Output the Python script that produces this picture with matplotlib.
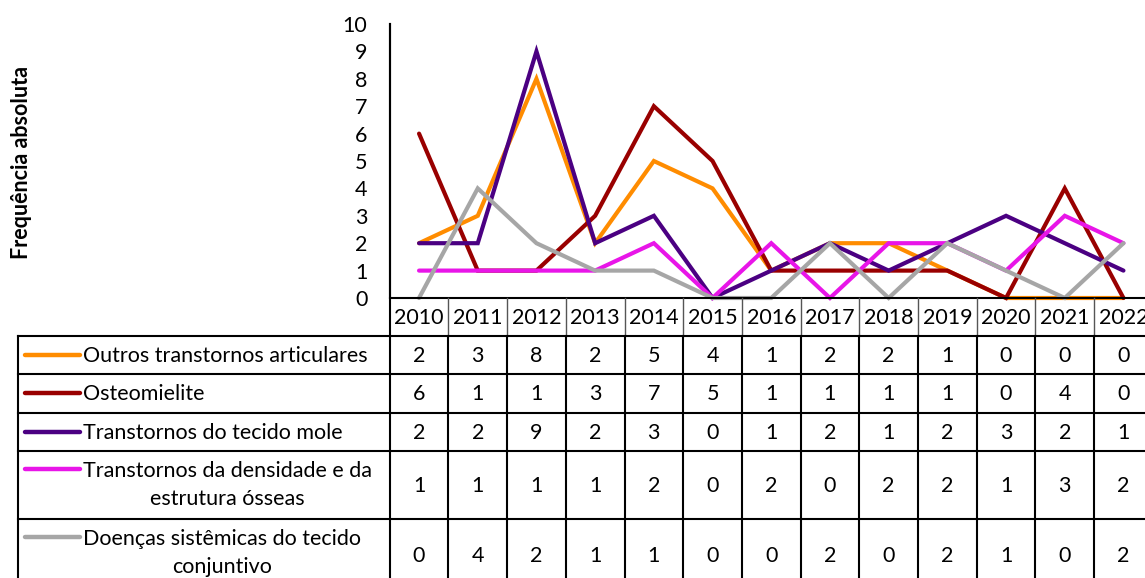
import matplotlib.pyplot as plt

plt.rcParams['font.family'] = ['Lato', 'DejaVu Sans']

anos = ['2010', '2011', '2012', '2013', '2014', '2015', '2016',
        '2017', '2018', '2019', '2020', '2021', '2022']
series = [
    'Outros transtornos articulares',
    'Osteomielite',
    'Transtornos do tecido mole',
    'Transtornos da densidade e da\nestrutura ósseas',
    'Doenças sistêmicas do tecido\nconjuntivo',
]
outros = [2, 3, 8, 2, 5, 4, 1, 2, 2, 1, 0, 0, 0]
osteomielite = [6, 1, 1, 3, 7, 5, 1, 1, 1, 1, 0, 4, 0]
tecido_mole = [2, 2, 9, 2, 3, 0, 1, 2, 1, 2, 3, 2, 1]
densidade = [1, 1, 1, 1, 2, 0, 2, 0, 2, 2, 1, 3, 2]
sistemicas = [0, 4, 2, 1, 1, 0, 0, 2, 0, 2, 1, 0, 2]
valores = [outros, osteomielite, tecido_mole, densidade, sistemicas]
cores = ['#FF8C00', '#990000', '#4B0082', '#E815E8', '#A6A6A6']

W, H = 1145, 578
x0 = 389.7           # left edge of first column (px)
cw = 58.7            # column width (px)
y_top, y_zero = 24, 298
fs = 15.5

fig = plt.figure(figsize=(W / 100, H / 100), dpi=100)

# line chart
ax = fig.add_axes([x0 / W, (H - y_zero) / H, len(anos) * cw / W, (y_zero - y_top) / H])
xs = range(len(anos))
for v, c in zip(valores, cores):
    ax.plot(xs, v, color=c, lw=3.0, solid_capstyle='round', solid_joinstyle='miter',
            clip_on=False)
ax.set_xlim(-0.5, len(anos) - 0.5)
ax.set_ylim(0, 10)
ax.set_yticks(range(0, 11))
ax.tick_params(axis='y', length=0, pad=16, labelsize=fs)
ax.set_xticks([])
for s in ['top', 'right']:
    ax.spines[s].set_visible(False)
ax.spines['left'].set_linewidth(1.5)
ax.spines['bottom'].set_linewidth(1.5)
ax.patch.set_alpha(0)

fig.text(22 / W, 1 - 162 / H, 'Frequência absoluta', rotation=90, ha='center',
         va='center', fontsize=15.5, fontweight='bold')

# data table (pixel coordinates)
t = fig.add_axes([0, 0, 1, 1])
t.set_xlim(0, W)
t.set_ylim(H, 0)
t.axis('off')
t.patch.set_alpha(0)

rows = [298, 336, 374, 412.5, 451, 519, 600]
x_right = x0 + len(anos) * cw
left = 18

# header
for i, a in enumerate(anos):
    t.text(x0 + (i + 0.5) * cw, (rows[0] + rows[1]) / 2 + 1, a, ha='center',
           va='center', fontsize=fs)
for i in range(1, len(anos) + 1):
    t.plot([x0 + i * cw] * 2, [rows[0], rows[1]], color='#555555', lw=1)

# horizontal lines
t.plot([left, x_right], [rows[1], rows[1]], color='black', lw=1.5)
for r in rows[2:-1]:
    t.plot([left, x_right], [r, r], color='black', lw=1.5)
# vertical lines
t.plot([left, left], [rows[1], H], color='black', lw=1.5)
t.plot([x0, x0], [y_top, H], color='black', lw=1.5)
for i in range(1, len(anos) + 1):
    t.plot([x0 + i * cw] * 2, [rows[1], H], color='black', lw=1.5)

# rows
for k, (nome, v, c) in enumerate(zip(series, valores, cores)):
    top, bot = rows[k + 1], rows[k + 2]
    if k == 4:
        bot = 590
    yc = (top + bot) / 2
    multi = '\n' in nome
    ky = top + 18 if multi else yc
    t.plot([25, 80], [ky, ky], color=c, lw=3.2, solid_capstyle='round')
    if multi:
        t.text(83, ky + 16, nome, ha='left', va='center', fontsize=fs,
               multialignment='center', linespacing=1.45)
    else:
        t.text(83, yc + 1, nome, ha='left', va='center', fontsize=fs)
    for i, val in enumerate(v):
        t.text(x0 + (i + 0.5) * cw, yc + 1, str(val), ha='center', va='center',
               fontsize=fs)

fig.savefig('out.png', dpi=100)
